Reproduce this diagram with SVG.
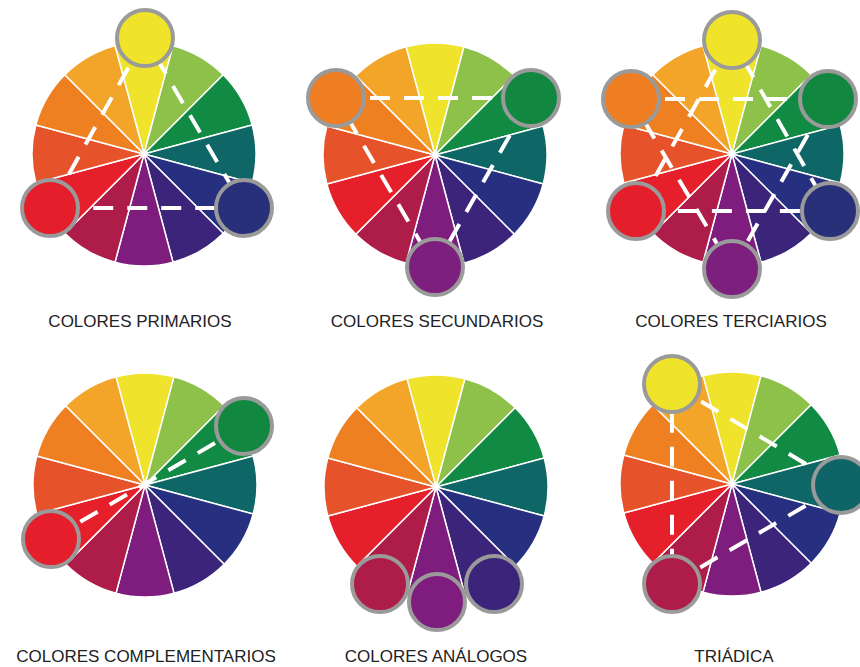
<svg xmlns="http://www.w3.org/2000/svg" xmlns:xlink="http://www.w3.org/1999/xlink" width="860" height="667" viewBox="0 0 860 667">
<style>
.seg{stroke:#fff;stroke-width:1.5;stroke-linejoin:round}
.sw{stroke:#9a9a9a;stroke-width:4}
.dash{fill:none;stroke:#fff;stroke-width:4;stroke-dasharray:20 14}
.lbl{font-family:"Liberation Sans",Arial,sans-serif;font-size:17px;fill:#222;text-anchor:middle}
</style>
<defs>
<g id="wheel">
<path class="seg" fill="#efe32c" d="M0 0L-28.99-108.18A112 112 0 0 1 28.99-108.18Z"/>
<path class="seg" fill="#8dc14a" d="M0 0L28.99-108.18A112 112 0 0 1 79.2-79.2Z"/>
<path class="seg" fill="#118a43" d="M0 0L79.2-79.2A112 112 0 0 1 108.18-28.99Z"/>
<path class="seg" fill="#0f6667" d="M0 0L108.18-28.99A112 112 0 0 1 108.18 28.99Z"/>
<path class="seg" fill="#273080" d="M0 0L108.18 28.99A112 112 0 0 1 79.2 79.2Z"/>
<path class="seg" fill="#3b2479" d="M0 0L79.2 79.2A112 112 0 0 1 28.99 108.18Z"/>
<path class="seg" fill="#7e1d7d" d="M0 0L28.99 108.18A112 112 0 0 1-28.99 108.18Z"/>
<path class="seg" fill="#ae1c4a" d="M0 0L-28.99 108.18A112 112 0 0 1-79.2 79.2Z"/>
<path class="seg" fill="#e5202a" d="M0 0L-79.2 79.2A112 112 0 0 1-108.18 28.99Z"/>
<path class="seg" fill="#e6532b" d="M0 0L-108.18 28.99A112 112 0 0 1-108.18-28.99Z"/>
<path class="seg" fill="#ef8022" d="M0 0L-108.18-28.99A112 112 0 0 1-79.2-79.2Z"/>
<path class="seg" fill="#f3a529" d="M0 0L-79.2-79.2A112 112 0 0 1-28.99-108.18Z"/>
</g>
</defs>
<rect width="860" height="667" fill="#fff"/>

<g id="wheel-primarios"><use href="#wheel" xlink:href="#wheel" transform="translate(144 154)"/></g>
<g id="wheel-secundarios"><use href="#wheel" xlink:href="#wheel" transform="translate(435 155)"/></g>
<g id="wheel-terciarios"><use href="#wheel" xlink:href="#wheel" transform="translate(732 154)"/></g>
<g id="wheel-complementarios"><use href="#wheel" xlink:href="#wheel" transform="translate(145 485)"/></g>
<g id="wheel-analogos"><use href="#wheel" xlink:href="#wheel" transform="translate(436 487)"/></g>
<g id="wheel-triadica"><use href="#wheel" xlink:href="#wheel" transform="translate(732 484)"/></g>

<g id="connectors">
<path class="dash" d="M145 38L50 208L244 208Z"/>
<path class="dash" d="M336 98L531 98L435 267Z"/>
<path class="dash" d="M732 40L636 211L830 211Z"/>
<path class="dash" d="M631 99L828 99L732 269Z"/>
<path class="dash" d="M51 539L244 426"/>
<path class="dash" d="M672 384L841 485L672 584Z"/>
</g>

<g id="swatches-primarios">
<circle class="sw" cx="145" cy="38" r="28" fill="#efe42a"/>
<circle class="sw" cx="50" cy="208" r="28" fill="#e41e2b"/>
<circle class="sw" cx="244" cy="208" r="28" fill="#283079"/>
</g>
<g id="swatches-secundarios">
<circle class="sw" cx="336" cy="98" r="28" fill="#ef7d22"/>
<circle class="sw" cx="531" cy="98" r="28" fill="#118740"/>
<circle class="sw" cx="435" cy="267" r="28" fill="#7d1f7c"/>
</g>
<g id="swatches-terciarios">
<circle class="sw" cx="732" cy="40" r="28" fill="#efe42a"/>
<circle class="sw" cx="631" cy="99" r="28" fill="#ef7d22"/>
<circle class="sw" cx="828" cy="99" r="28" fill="#118740"/>
<circle class="sw" cx="636" cy="211" r="28" fill="#e41e2b"/>
<circle class="sw" cx="830" cy="211" r="28" fill="#283079"/>
<circle class="sw" cx="732" cy="269" r="28" fill="#7d1f7c"/>
</g>
<g id="swatches-complementarios">
<circle class="sw" cx="244" cy="426" r="28" fill="#118740"/>
<circle class="sw" cx="51" cy="539" r="28" fill="#e41e2b"/>
</g>
<g id="swatches-analogos">
<circle class="sw" cx="380" cy="584" r="28" fill="#ae1c4a"/>
<circle class="sw" cx="494" cy="584" r="28" fill="#3b2479"/>
<circle class="sw" cx="437" cy="602" r="28" fill="#7e1d7d"/>
</g>
<g id="swatches-triadica">
<circle class="sw" cx="672" cy="384" r="28" fill="#efe42a"/>
<circle class="sw" cx="841" cy="485" r="28" fill="#0f6468"/>
<circle class="sw" cx="672" cy="584" r="28" fill="#ae1c4a"/>
</g>

<g id="labels">
<text class="lbl" x="140" y="327">COLORES PRIMARIOS</text>
<text class="lbl" x="437" y="327">COLORES SECUNDARIOS</text>
<text class="lbl" x="731" y="327">COLORES TERCIARIOS</text>
<text class="lbl" x="146" y="662">COLORES COMPLEMENTARIOS</text>
<text class="lbl" x="436" y="662">COLORES ANÁLOGOS</text>
<text class="lbl" x="734" y="662">TRIÁDICA</text>
</g>
</svg>
